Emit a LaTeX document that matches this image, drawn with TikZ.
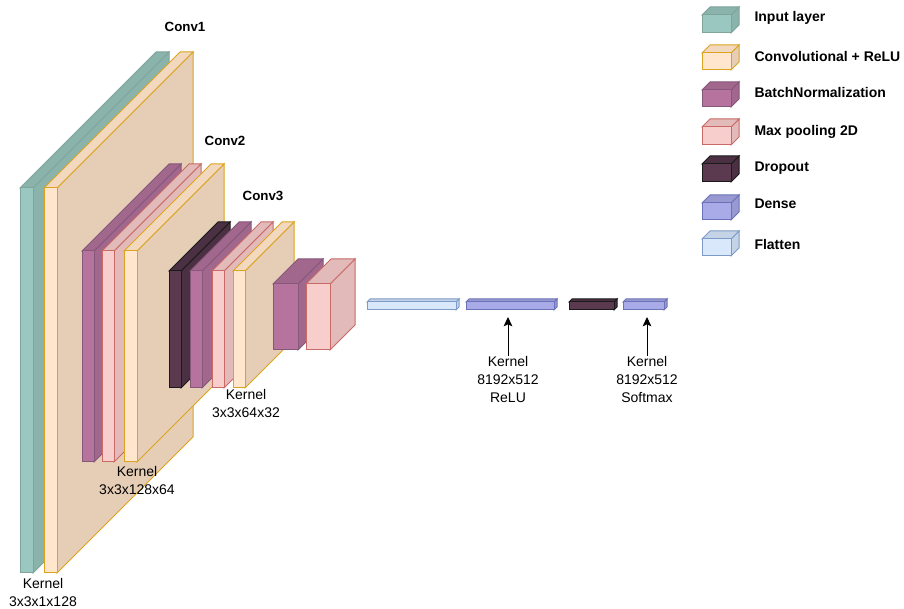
\documentclass[tikz,border=0pt]{standalone}
\usepackage{fontspec}
\setmainfont{Liberation Sans}
\usetikzlibrary{arrows.meta}
\definecolor{inpF}{HTML}{9AC7BF}\definecolor{inpS}{HTML}{8AB3AC}\definecolor{inpD}{HTML}{7EA49C}
\definecolor{convF}{HTML}{FFE6CC}\definecolor{convT}{HTML}{F2D8BE}\definecolor{convS}{HTML}{E6CEB6}\definecolor{convD}{HTML}{DBA320}
\definecolor{bnF}{HTML}{B5739D}\definecolor{bnS}{HTML}{A2678D}\definecolor{bnD}{HTML}{85587A}
\definecolor{mpF}{HTML}{F8CECC}\definecolor{mpS}{HTML}{E2BAB9}\definecolor{mpD}{HTML}{C96A66}
\definecolor{doF}{HTML}{5B3A50}\definecolor{doS}{HTML}{4B2F42}\definecolor{doD}{HTML}{1A1A1A}
\definecolor{deF}{HTML}{A9ABE8}\definecolor{deS}{HTML}{9799D0}\definecolor{deD}{HTML}{6C72B8}
\definecolor{flF}{HTML}{DAE8FC}\definecolor{flS}{HTML}{C5D3E6}\definecolor{flD}{HTML}{7D9BC8}
\tikzset{
  inp front/.style={fill=inpF,draw=inpD}, inp top/.style={fill=inpS,draw=inpD}, inp side/.style={fill=inpS,draw=inpD},
  conv front/.style={fill=convF,draw=convD}, conv top/.style={fill=convT,draw=convD}, conv side/.style={fill=convS,draw=convD},
  bn front/.style={fill=bnF,draw=bnD}, bn top/.style={fill=bnS,draw=bnD}, bn side/.style={fill=bnS,draw=bnD},
  mp front/.style={fill=mpF,draw=mpD}, mp top/.style={fill=mpS,draw=mpD}, mp side/.style={fill=mpS,draw=mpD},
  do front/.style={fill=doF,draw=doD}, do top/.style={fill=doS,draw=doD}, do side/.style={fill=doS,draw=doD},
  de front/.style={fill=deF,draw=deD}, de top/.style={fill=deS,draw=deD}, de side/.style={fill=deS,draw=deD},
  fl front/.style={fill=flF,draw=flD}, fl top/.style={fill=flS,draw=flD}, fl side/.style={fill=flS,draw=flD},
  legtext/.style={font=\fontsize{10.5}{12}\selectfont\bfseries, inner sep=0pt, anchor=base west},
  convlabel/.style={font=\fontsize{10}{12}\selectfont\bfseries, inner sep=0pt, anchor=base},
  kernlabel/.style={font=\fontsize{10.5}{13.5}\selectfont, inner sep=0pt, align=center, anchor=north},
  uparrow/.style={-{Stealth[length=7pt,width=6.5pt,inset=1.5pt]}, line width=0.75pt, black}
}
\newcommand\cuboid[6]{%
  \filldraw[#1 side] (#4,#3) -- ({#4+#6},{#3-#6}) -- ({#4+#6},{#5-#6}) -- (#4,#5) -- cycle;
  \filldraw[#1 top] (#2,#3) -- ({#2+#6},{#3-#6}) -- ({#4+#6},{#3-#6}) -- (#4,#3) -- cycle;
  \filldraw[#1 front] (#2,#3) rectangle (#4,#5);
}
\begin{document}
\begin{tikzpicture}[x=0.75pt,y=-0.75pt,line width=0.75pt]
\useasboundingbox (0,0) rectangle (904,609);
% input + conv1
\cuboid{inp}{20}{188}{33}{573}{136}
\cuboid{conv}{44}{188}{57}{573}{136}
% conv2 block
\cuboid{bn}{82}{251}{94}{462}{87}
\cuboid{mp}{102}{251}{114}{462}{87}
\cuboid{conv}{124}{251}{137}{462}{87}
% conv3 block
\cuboid{do}{169}{271}{181}{388}{49}
\cuboid{bn}{190}{271}{202}{388}{49}
\cuboid{mp}{212}{271}{224}{388}{49}
\cuboid{conv}{233}{271}{245}{388}{49}
% small block
\cuboid{bn}{273}{284}{298}{350}{25}
\cuboid{mp}{306}{284}{330}{350}{25}
% flat layers
\cuboid{fl}{367}{302}{456}{310}{3}
\cuboid{de}{466}{302}{554}{310}{3}
\cuboid{do}{569}{302}{614}{310}{3}
\cuboid{de}{623}{302}{664}{310}{3}
% labels
\node[convlabel] (c1) at (185,32) {Conv1};
\node[convlabel] (c2) at (225,146) {Conv2};
\node[convlabel] (c3) at (263,201) {Conv3};
\node[kernlabel] (k1) at (43,578) {Kernel\\3x3x1x128};
\node[kernlabel] (k2) at (137,466) {Kernel\\3x3x128x64};
\node[kernlabel] (k3) at (246,389) {Kernel\\3x3x64x32};
\node[kernlabel] (k4) at (508,356) {Kernel\\8192x512\\ReLU};
\node[kernlabel] (k5) at (647,356) {Kernel\\8192x512\\Softmax};
\coordinate (d1) at (508,317);
\coordinate (d2) at (647,317);
\draw[uparrow] (k4.north) -- (d1);
\draw[uparrow] (k5.north) -- (d2);
% legend
\cuboid{inp}{702}{15}{731}{33}{8}
\cuboid{conv}{702}{53}{731}{70}{8}
\cuboid{bn}{702}{90}{731}{107}{8}
\cuboid{mp}{702}{127}{731}{145}{8}
\cuboid{do}{702}{164}{731}{182}{8}
\cuboid{de}{702}{203}{731}{220}{8}
\cuboid{fl}{702}{239}{731}{256}{8}
\node[legtext] (l1) at (754,22) {Input layer};
\node[legtext] (l2) at (754,62) {Convolutional + ReLU};
\node[legtext] (l3) at (754,98) {BatchNormalization};
\node[legtext] (l4) at (754,135.5) {Max pooling 2D};
\node[legtext] (l5) at (754,172) {Dropout};
\node[legtext] (l6) at (754,209) {Dense};
\node[legtext] (l7) at (754,250) {Flatten};
\end{tikzpicture}
\end{document}
